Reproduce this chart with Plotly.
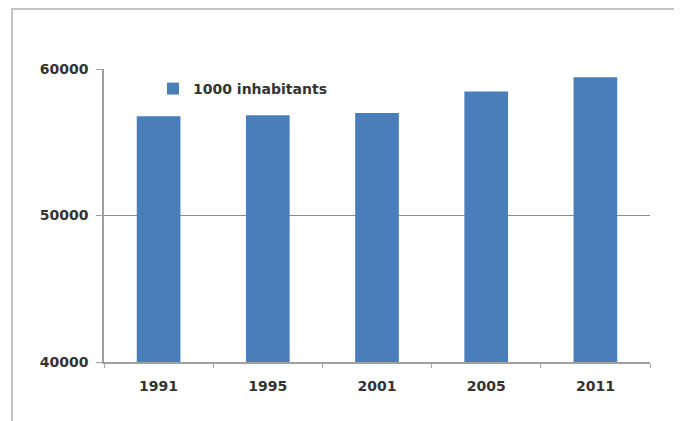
import plotly.graph_objects as go

years = ["1991", "1995", "2001", "2005", "2011"]
population = [56778, 56844, 56995, 58462, 59434]
series_name = "1000 inhabitants"
y_ticks = [40000, 50000, 60000]

# page body has an 8px margin; work in screen pixels
OFF = 8
SW, SH = 682, 421
W, H = SW - OFF, SH - OFF
X0, X1, Y0, Y1 = 104, 650, 69, 362  # plot area in screen px
L, R, T, B = X0 - OFF, SW - X1, Y0 - OFF, SH - Y1
pw, ph = X1 - X0, Y1 - Y0

def px(x):
    return (x - X0) / pw

def py(y):
    return (Y1 - y) / ph

fig = go.Figure()
fig.add_trace(go.Bar(
    x=years, y=population, name=series_name,
    marker=dict(color="#4a7ebb", line=dict(width=0)),
    showlegend=True,
))

font = dict(family="DejaVu Sans", size=14, color="#333333", weight="bold")

fig.update_layout(
    width=W, height=H,
    margin=dict(l=L, r=R, t=T, b=B),
    paper_bgcolor="white", plot_bgcolor="white",
    bargap=0.6,
    font=font,
    showlegend=True,
    legend=dict(
        x=px(153), y=py(89), xanchor="left", yanchor="middle",
        bgcolor="rgba(0,0,0,0)", font=font, itemwidth=30,
    ),
    xaxis=dict(
        type="category", showgrid=False,
        showline=True, linecolor="#a0a0a0", linewidth=1.5,
        ticks="outside", tickson="boundaries", ticklen=4, tickcolor="#a0a0a0",
        tickfont=font, ticklabelstandoff=10,
    ),
    yaxis=dict(
        range=[40000, 60000], tickvals=y_ticks, ticktext=[str(v) for v in y_ticks],
        showgrid=True, gridcolor="#8c8c8c", gridwidth=1,
        showline=True, linecolor="#a0a0a0", linewidth=1.5,
        ticks="outside", ticklen=6, tickcolor="#a0a0a0",
        tickfont=font, zeroline=False, ticklabelstandoff=5,
    ),
    shapes=[
        dict(type="path", xref="paper", yref="paper",
             path=f"M {px(12)} {py(430)} L {px(12)} {py(9)} L {px(690)} {py(9)}",
             line=dict(color="#c4c4c4", width=2)),
    ],
)

fig.write_html("out.html")
